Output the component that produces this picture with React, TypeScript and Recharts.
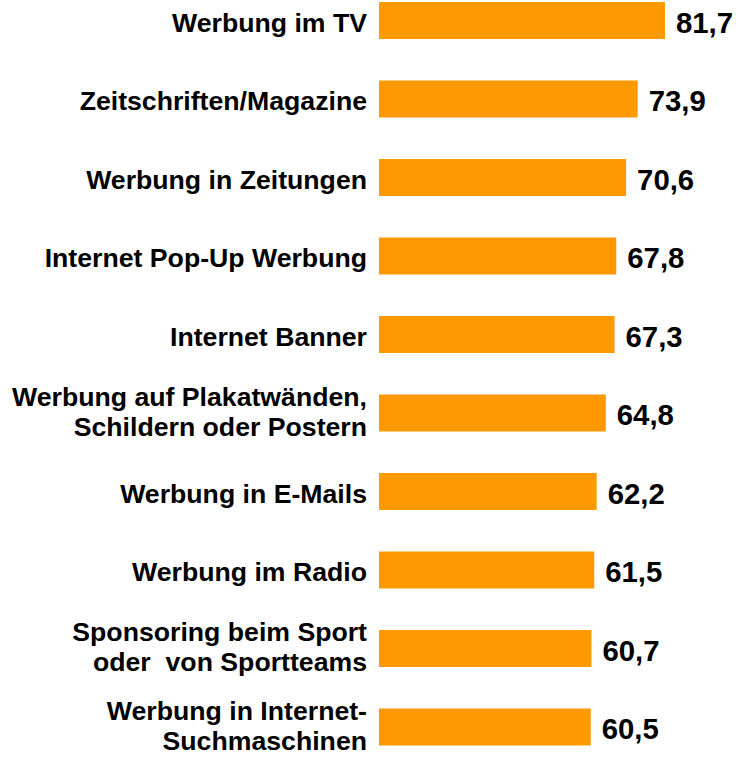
import React from "react";
import { BarChart, Bar, XAxis, YAxis, LabelList } from "recharts";

const categories: string[] = [
  "Werbung im TV",
  "Zeitschriften/Magazine",
  "Werbung in Zeitungen",
  "Internet Pop-Up Werbung",
  "Internet Banner",
  "Werbung auf Plakatwänden,\nSchildern oder Postern",
  "Werbung in E-Mails",
  "Werbung im Radio",
  "Sponsoring beim Sport\noder  von Sportteams",
  "Werbung in Internet-\nSuchmaschinen",
];

const values: number[] = [81.7, 73.9, 70.6, 67.8, 67.3, 64.8, 62.2, 61.5, 60.7, 60.5];

const valueLabels: string[] = ["81,7", "73,9", "70,6", "67,8", "67,3", "64,8", "62,2", "61,5", "60,7", "60,5"];

const data = categories.map((name, i) => ({ name, value: values[i], label: valueLabels[i] }));

const FONT = "'Liberation Sans', Arial, Helvetica, sans-serif";

const CategoryTick = (props: any) => {
  const { x, y, payload } = props;
  const lines: string[] = String(payload.value).split("\n");
  const tx = 367;
  if (lines.length === 1) {
    return (
      <text x={tx} y={y + 11.5} textAnchor="end" fontFamily={FONT} fontWeight="bold" fontSize={26.67} fill="#000" style={{ whiteSpace: "pre" }}>
        {lines[0]}
      </text>
    );
  }
  return (
    <text textAnchor="end" fontFamily={FONT} fontWeight="bold" fontSize={26.67} fill="#000" style={{ whiteSpace: "pre" }}>
      <tspan x={tx} y={y - 7}>{lines[0]}</tspan>
      <tspan x={tx} y={y + 23}>{lines[1]}</tspan>
    </text>
  );
};

const ValueLabel = (props: any) => {
  const { x, y, width, height, index } = props;
  return (
    <text x={x + width + 11} y={y + height / 2 + 12} textAnchor="start" fontFamily={FONT} fontWeight="bold" fontSize={29.33} fill="#000">
      {valueLabels[index]}
    </text>
  );
};

export default function App() {
  return (
    <div style={{ position: "absolute", left: 0, top: 0, width: 736, height: 759, overflow: "hidden", background: "#fff" }}>
      <div style={{ position: "relative", top: -19 }}>
        <BarChart
          width={736}
          height={785}
          data={data}
          layout="vertical"
          margin={{ top: 0, right: 7, bottom: 0, left: 0 }}
        >
          <XAxis type="number" domain={[0, 100]} hide />
          <YAxis
            type="category"
            dataKey="name"
            width={379}
            axisLine={false}
            tickLine={false}
            tick={<CategoryTick />}
            interval={0}
          />
          <Bar dataKey="value" fill="#FF9900" barSize={37} isAnimationActive={false}>
            <LabelList dataKey="label" content={<ValueLabel />} />
          </Bar>
        </BarChart>
      </div>
    </div>
  );
}
